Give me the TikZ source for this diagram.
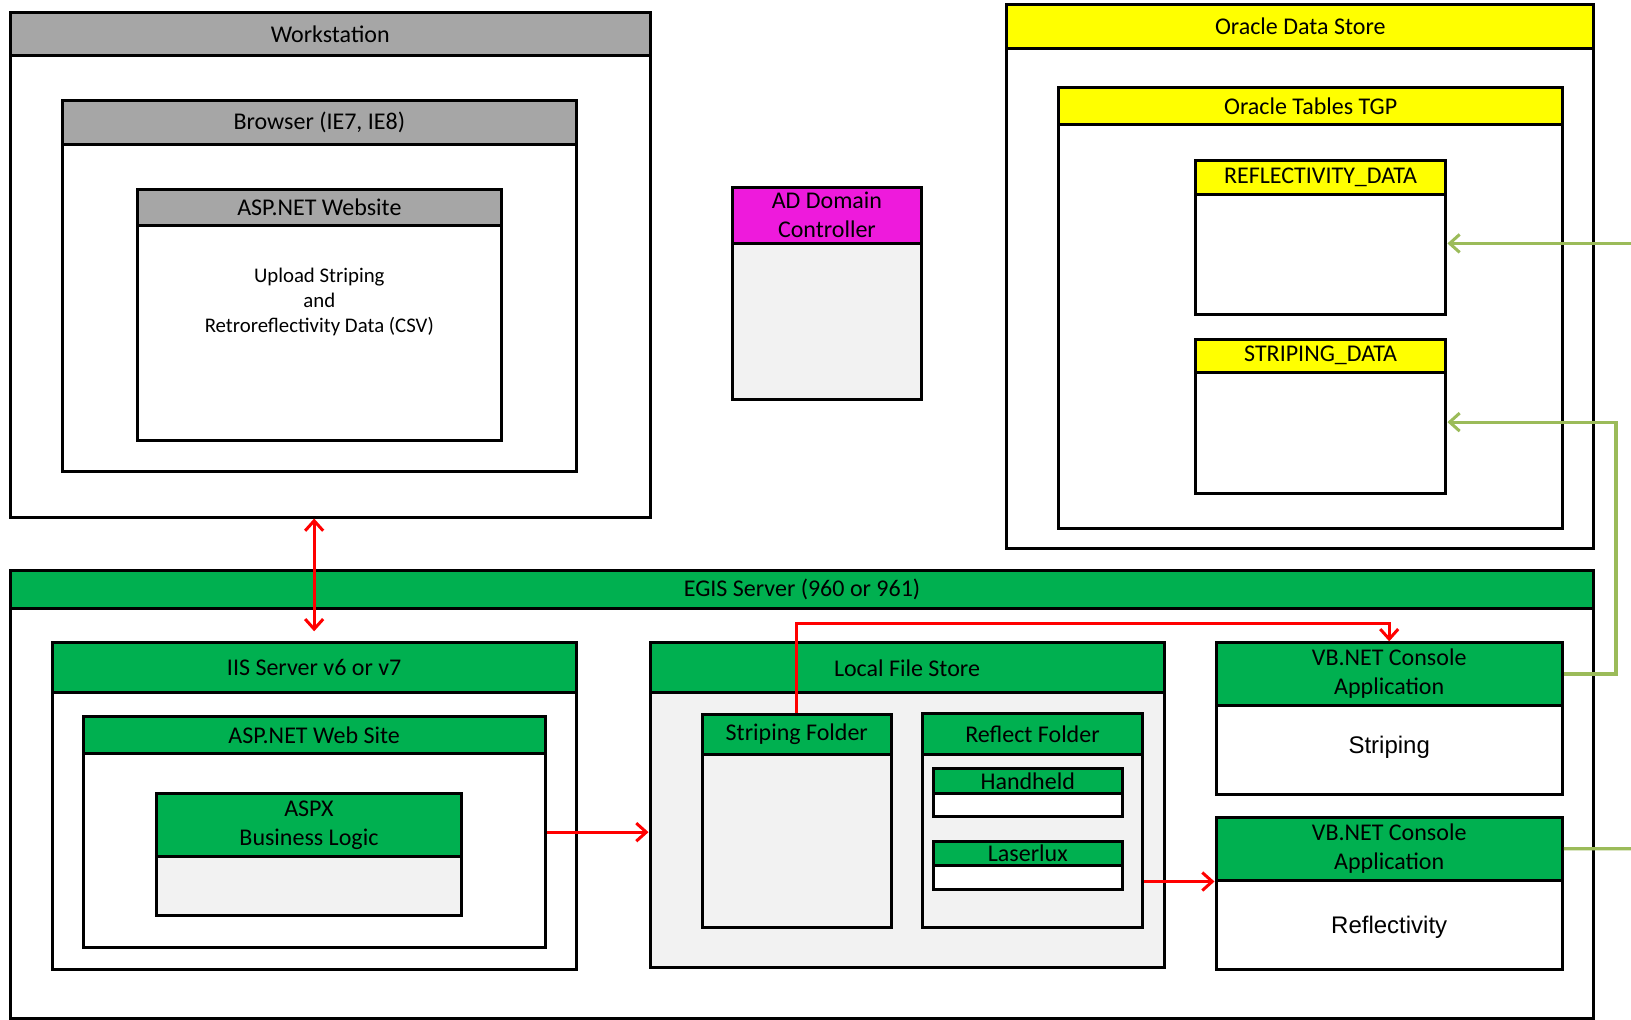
\documentclass[tikz,border=0pt]{standalone}
\usepackage{fontspec}
\setmainfont{Carlito}
\newfontfamily\arialfont{Liberation Sans}
\usepackage{tikz}
\usetikzlibrary{arrows.meta,positioning,fit,calc}
\usepackage{xcolor}
\definecolor{hdgray}{HTML}{A6A6A6}
\definecolor{hdgreen}{HTML}{00B050}
\definecolor{hdyellow}{HTML}{FFFF00}
\definecolor{hdmagenta}{HTML}{EE1ADC}
\definecolor{bodygray}{HTML}{F2F2F2}
\definecolor{linkgreen}{HTML}{9BBB59}

\begin{document}
\begin{tikzpicture}[x=0.5pt,y=-0.5pt,
    panel/.style={draw=black,line width=1.5pt,inner sep=0pt,fill=white},
    hdtext/.style={font=\fontsize{12}{14.5}\selectfont,align=center,inner sep=0pt},
    header/.style={panel,label={[hdtext]center:{#1}}},
    barb/.tip={Straight Barb[length=5pt,width=9pt,line width=1.5pt]},
    redlink/.style={draw=red,line width=1.5pt,-barb},
    greenlink/.style={draw=linkgreen,line width=1.6pt,-barb}]
    \useasboundingbox (0,0) rectangle (1631,1019);

    % Workstation
    \node[panel, fit={(10.4,12.5) (650,517)}] (ws) {};
    \node[header=Workstation, fill=hdgray, fit={(10.4,12.5) (650,55)}] (wsh) {};
    \node[panel, fit={(62.4,100.9) (576.3,471.2)}] (br) {};
    \node[header={Browser (IE7, IE8)}, fill=hdgray, fit={(62.4,100.9) (576.3,144.6)}] (brh) {};
    \node[panel, fit={(137.3,189.3) (501.4,440)}] (web) {};
    \node[header={ASP.NET Website}, fill=hdgray, fit={(137.3,189.3) (501.4,225.7)}] (webh) {};
    \node[font=\fontsize{10.4}{12.5}\selectfont, align=center] (upload) at (319.3,301.7) {Upload Striping\\and\\Retroreflectivity Data (CSV)};

    % AD Domain Controller
    \node[panel, fill=bodygray, fit={(732.3,187.2) (921.6,399.4)}] (ad) {};
    \node[header={AD Domain\\Controller}, fill=hdmagenta, fit={(732.3,187.2) (921.6,243.4)}] (adh) {};

    % Oracle
    \node[panel, fit={(1006.9,4.2) (1593.6,548.2)}] (ods) {};
    \node[header={Oracle Data Store}, fill=hdyellow, fit={(1006.9,4.2) (1593.6,48.9)}] (odsh) {};
    \node[panel, fit={(1058.9,87.4) (1562.4,528.4)}] (otg) {};
    \node[header={Oracle Tables TGP}, fill=hdyellow, fit={(1058.9,87.4) (1562.4,124.8)}] (otgh) {};
    \node[panel, fit={(1195.2,160.2) (1445.9,314.1)}] (rd) {};
    \node[header={REFLECTIVITY\_DATA}, fill=hdyellow, fit={(1195.2,160.2) (1445.9,194.5)}] (rdh) {};
    \node[panel, fit={(1195.2,339.1) (1445.9,493.1)}] (sd) {};
    \node[header={STRIPING\_DATA}, fill=hdyellow, fit={(1195.2,339.1) (1445.9,372.4)}] (sdh) {};

    % EGIS Server
    \node[panel, fit={(10.4,570) (1593.6,1018)}] (egis) {};
    \node[header={EGIS Server (960 or 961)}, fill=hdgreen, fit={(10.4,570) (1593.6,608.5)}] (egish) {};
    \node[panel, fit={(52,642.8) (576.3,969.5)}] (iis) {};
    \node[header={IIS Server v6 or v7}, fill=hdgreen, fit={(52,642.8) (576.3,692.8)}] (iish) {};
    \node[panel, fit={(83.2,716.7) (545,947.6)}] (aws) {};
    \node[header={ASP.NET Web Site}, fill=hdgreen, fit={(83.2,716.7) (545,753.1)}] (awsh) {};
    \node[panel, fill=bodygray, fit={(156,793.7) (461.9,915.4)}] (aspx) {};
    \node[header={ASPX\\Business Logic}, fill=hdgreen, fit={(156,793.7) (461.9,856.1)}] (aspxh) {};

    \node[panel, fill=bodygray, fit={(650,642.8) (1164,967.4)}] (lfs) {};
    \node[header={Local File Store}, fill=hdgreen, fit={(650,642.8) (1164,692.8)}] (lfsh) {};
    \node[panel, fill=bodygray, fit={(702.1,714.6) (891.5,927.9)}] (sf) {};
    \node[header={Striping Folder}, fill=hdgreen, fit={(702.1,714.6) (891.5,754.1)}] (sfh) {};
    \node[panel, fill=bodygray, fit={(922.7,713.6) (1142.2,927.9)}] (rf) {};
    \node[header={Reflect Folder}, fill=hdgreen, fit={(922.7,713.6) (1142.2,754.1)}] (rfh) {};
    \node[panel, fit={(933.1,768.7) (1122.4,816.6)}] (hh) {};
    \node[header=Handheld, fill=hdgreen, fit={(933.1,768.7) (1122.4,793.7)}] (hhh) {};
    \node[panel, fit={(933.1,841.5) (1122.4,889.4)}] (ll) {};
    \node[header=Laserlux, fill=hdgreen, fit={(933.1,841.5) (1122.4,865.4)}] (llh) {};

    \node[panel, fit={(1216,642.8) (1562.4,794.7)}] (vbs) {};
    \node[header={VB.NET Console\\Application}, fill=hdgreen, fit={(1216,642.8) (1562.4,705.3)}] (vbsh) {};
    \node[font=\arialfont\fontsize{12}{14}\selectfont] (strp) at (1389.2,746.9) {Striping};
    \node[panel, fit={(1216,817.6) (1562.4,969.5)}] (vbr) {};
    \node[header={VB.NET Console\\Application}, fill=hdgreen, fit={(1216,817.6) (1562.4,880)}] (vbrh) {};
    \node[font=\arialfont\fontsize{12}{14}\selectfont] (refl) at (1389.2,926.8) {Reflectivity};

    % connectors
    \coordinate (iistop) at ($(iis.north)+(0,-10)$);
    \draw[redlink, barb-barb] (iistop |- ws.south) -- (iistop);
    \draw[redlink] (aws.east) -- (aws.east -| lfs.west);
    \draw[redlink] (vbrh.south west -| rf.east) -- (vbrh.south west);
    \draw[redlink] (sf.north) -- ++(0,-90) -| (vbs.north);

    \coordinate (edgeR) at (1631,243.4);
    \coordinate (edgeV) at (1631,848.8);
    \draw[greenlink] (vbsh.east) -- ++(52,0) |- ($(sd.east)+(0,6)$);
    \draw[greenlink] (edgeR) -- (edgeR -| rd.east);
    \draw[greenlink, -] (vbrh.east) -- (edgeV);
\end{tikzpicture}
\end{document}
